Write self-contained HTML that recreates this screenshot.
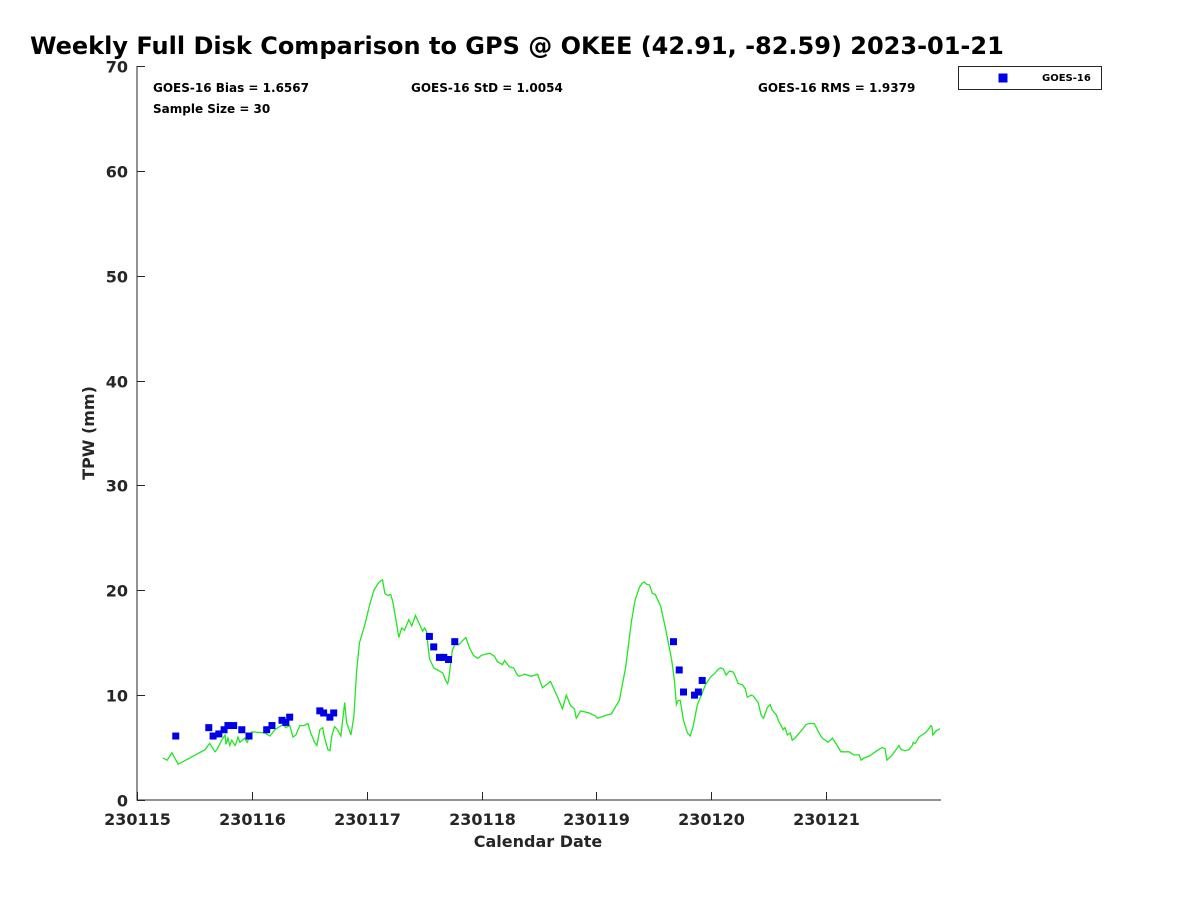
<!DOCTYPE html>
<html><head><meta charset="utf-8"><style>
body{margin:0;background:#fff;width:1200px;height:900px;overflow:hidden;font-family:"Liberation Sans","DejaVu Sans",sans-serif}
svg text{font-family:"DejaVu Sans","Liberation Sans",sans-serif;font-weight:bold;fill:#262626}
</style></head><body>
<svg id="chart" width="1200" height="900" xmlns="http://www.w3.org/2000/svg">
<text x="30" y="54" font-size="24" style="fill:#000">Weekly Full Disk Comparison to GPS @ OKEE (42.91, -82.59) 2023-01-21</text>
<text x="153" y="92" font-size="12" style="fill:#000">GOES-16 Bias = 1.6567</text>
<text x="411" y="92" font-size="12" style="fill:#000">GOES-16 StD = 1.0054</text>
<text x="758" y="92" font-size="12" style="fill:#000">GOES-16 RMS = 1.9379</text>
<text x="153" y="113" font-size="12" style="fill:#000">Sample Size = 30</text>
<g id="axes"></g>
<g id="gps-line"></g>
<g id="goes-points"></g>
<text x="538" y="847" font-size="16" text-anchor="middle">Calendar Date</text>
<text transform="translate(94,433) rotate(-90)" font-size="16" text-anchor="middle">TPW (mm)</text>
<g>
<rect x="958.5" y="66.5" width="143" height="23" fill="#fff" stroke="#262626" stroke-width="1"/>
<rect x="998.5" y="73.5" width="9" height="9" fill="#0000e6"/>
<text x="1042" y="81" font-size="10" style="fill:#000">GOES-16</text>
</g>
</svg>
<script>
// hours since 230115 00Z, TPW (mm)
const gpsHours=[5.4,6.3,7.3,8.6,14.2,15.2,16.3,16.7,17.7,18.4,18.6,19.0,19.4,19.8,20.5,20.7,21.1,21.5,22.5,23.0,24.0,26.7,27.8,28.8,30.5,31.1,31.9,32.6,33.2,34.0,34.9,35.7,36.3,37.1,37.6,38.2,38.8,39.2,39.9,40.3,40.7,41.3,41.9,42.6,43.4,43.8,44.7,45.3,45.9,46.5,47.6,48.6,49.5,50.3,50.9,51.3,51.8,52.4,53.0,53.4,54.1,54.7,55.3,55.9,56.8,57.4,58.2,59.1,59.7,60.1,60.5,61.1,62.0,62.8,63.9,64.5,64.9,65.1,65.9,66.6,67.2,67.8,68.7,69.5,70.3,71.2,72.0,73.7,74.7,75.3,76.4,76.8,77.8,78.7,79.5,79.9,81.0,82.4,83.7,84.7,86.4,87.7,88.9,89.7,90.6,91.4,91.8,92.7,94.5,95.8,96.2,98.1,99.1,100.4,100.8,101.4,102.1,102.7,103.3,104.1,105.0,105.6,106.0,106.4,107.1,107.7,108.3,108.7,109.4,110.6,111.7,112.3,112.7,113.1,113.5,114.2,115.0,115.6,116.2,117.1,118.1,118.8,119.8,120.8,121.3,121.9,122.5,123.1,123.8,124.6,125.0,125.6,126.5,127.1,127.5,128.4,128.8,129.8,130.4,130.9,131.7,132.3,132.7,133.6,134.0,135.0,135.4,135.9,136.5,136.9,137.5,138.4,139.0,139.8,140.5,141.5,142.5,143.2,144.4,145.3,146.3,147.1,148.8,149.8,150.9,151.3,151.9,153.0,154.0,154.6,155.7,156.3,156.7,157.8,158.6,159.2,159.7,160.5,161.3,162.0,162.2,162.6,163.4,164.0,164.7,165.3,165.9,166.1,166.3,167.0,167.8];
const gpsTpw=[4.0,3.8,4.5,3.4,4.8,5.4,4.6,4.8,5.7,6.2,5.3,5.9,5.2,5.7,5.2,5.4,6.0,5.5,5.9,5.5,6.5,6.4,6.1,6.7,7.2,6.9,7.1,6.0,6.2,7.1,7.1,7.3,6.4,5.5,5.2,6.7,6.9,5.9,4.8,4.7,6.1,7.0,6.7,6.1,9.3,7.4,6.2,7.9,12.4,15.0,16.7,18.6,20.0,20.6,20.9,21.0,19.7,19.5,19.6,19.0,17.2,15.5,16.4,16.2,17.2,16.6,17.6,16.7,16.1,16.4,16.1,13.5,12.6,12.4,12.1,11.4,11.1,11.4,14.3,15.0,14.8,15.1,15.5,14.5,13.8,13.5,13.8,14.0,13.7,13.2,12.9,13.3,12.7,12.6,11.9,11.8,12.0,11.8,12.0,10.7,11.3,10.0,8.7,10.0,9.0,8.7,7.8,8.5,8.3,8.0,7.8,8.1,8.2,9.2,9.5,11.0,12.6,14.8,17.0,19.1,20.3,20.7,20.8,20.6,20.5,19.7,19.6,19.2,18.5,16.0,13.4,11.4,9.1,9.5,9.5,7.6,6.4,6.1,7.0,9.1,10.2,11.0,11.7,12.1,12.4,12.6,12.5,11.9,12.3,12.2,11.8,11.1,11.0,10.6,9.8,10.0,9.9,9.3,8.1,7.8,8.8,9.1,8.6,8.1,7.6,6.7,6.9,6.2,6.4,5.7,5.9,6.4,6.7,7.2,7.3,7.3,6.4,5.9,5.5,5.9,5.2,4.6,4.6,4.3,4.3,3.8,4.0,4.2,4.5,4.7,5.0,4.9,3.8,4.3,4.8,5.2,4.8,4.7,4.8,5.2,5.5,5.4,6.0,6.2,6.4,6.7,7.1,7.0,6.2,6.6,6.8];
const goesHours=[8.1,15.0,15.9,17.1,18.2,19.0,20.2,21.9,23.4,27.1,28.2,30.3,31.1,31.9,38.2,39.0,40.3,41.1,61.1,62.0,63.2,64.1,65.1,66.4,112.1,113.3,114.2,116.5,117.3,118.1];
const goesTpw=[6.1,6.9,6.1,6.3,6.7,7.1,7.1,6.7,6.1,6.7,7.1,7.6,7.4,7.9,8.5,8.3,7.9,8.3,15.6,14.6,13.6,13.6,13.4,15.1,15.1,12.4,10.3,10.0,10.3,11.4];
const xTickLabels=["230115","230116","230117","230118","230119","230120","230121"];
const yTickValues=[0,10,20,30,40,50,60,70];

const NS="http://www.w3.org/2000/svg";
const X0=137,X1=941,Y0=800,Y1=66,XMAX=168,YMAX=70;
const xs=h=>X0+(X1-X0)*h/XMAX;
const ys=v=>Y0-(Y0-Y1)*v/YMAX;
function mk(tag,attrs,parent){const e=document.createElementNS(NS,tag);for(const k in attrs)e.setAttribute(k,attrs[k]);parent.appendChild(e);return e;}
const axes=document.getElementById('axes');
let l=mk('line',{x1:X0,y1:Y1,x2:X0,y2:Y0+0.5,stroke:'#262626','stroke-width':1},axes);


l=mk('line',{x1:X0,y1:Y0,x2:X1,y2:Y0,stroke:'#262626','stroke-width':1},axes);


yTickValues.forEach(v=>{
  const y=Math.round(ys(v))+0.5;
  const t=mk('line',{x1:X0,y1:y,x2:X0+8,y2:y,stroke:'#262626'},axes);
  
  
  const tx=mk('text',{x:X0-9,y:y+6,'font-size':16,'text-anchor':'end'},axes);
  tx.textContent=v;
  
  
});
xTickLabels.forEach((lab,i)=>{
  const x=Math.round(xs(i*24))+0.5;
  const t=mk('line',{x1:x,y1:Y0,x2:x,y2:Y0-8,stroke:'#262626'},axes);
  
  
  const tx=mk('text',{x:x,y:Y0+25,'font-size':16,'text-anchor':'middle'},axes);
  tx.textContent=lab;
  
  
});
const g=document.getElementById('gps-line');
const pts=gpsHours.map((h,i)=>xs(h).toFixed(1)+','+ys(gpsTpw[i]).toFixed(1)).join(' ');
const pl=mk('polyline',{points:pts,fill:'none',stroke:'#22e622','stroke-width':1.3},g);


const gp=document.getElementById('goes-points');
goesHours.forEach((h,i)=>{
  const r=mk('rect',{x:xs(h)-3.5,y:ys(goesTpw[i])-3.5,width:7,height:7,fill:'#0000e6'},gp);
  
  
});
</script>
</body></html>
